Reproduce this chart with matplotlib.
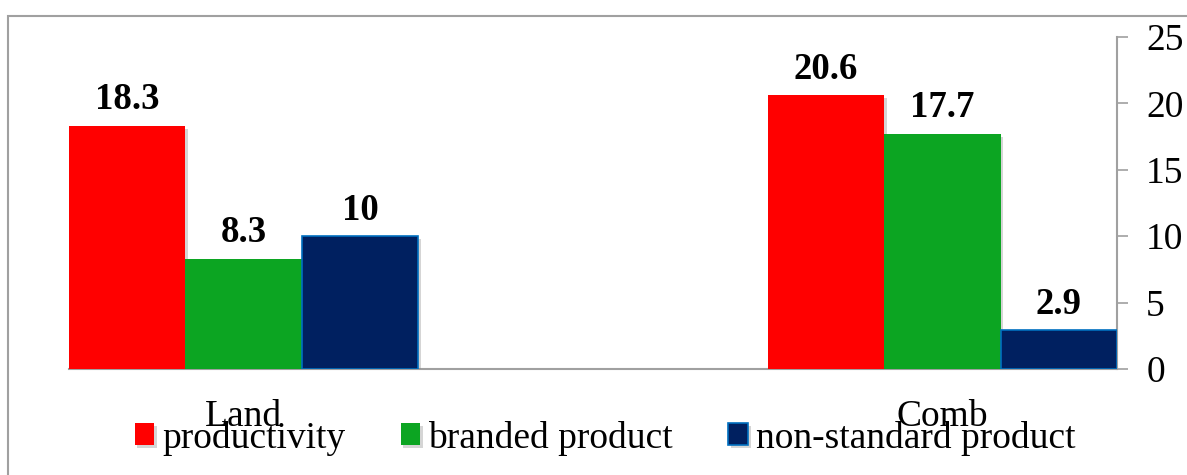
import matplotlib
matplotlib.use("Agg")
import matplotlib.pyplot as plt
import matplotlib.patheffects as pe
from matplotlib.patches import Rectangle
import numpy as np

plt.rcParams['font.family'] = ['Liberation Serif', 'DejaVu Serif']

categories = ['Land', 'Comb']
series = ['productivity', 'branded product', 'non-standard product']
productivity = [18.3, 20.6]
branded = [8.3, 17.7]
non_standard = [10, 2.9]
colors = ['#ff0000', '#0ca522', '#002060']
edges = ['#ff0000', '#0ca522', '#0070c0']

W, H = 1187, 475
fig = plt.figure(figsize=(W / 100, H / 100), dpi=100)

# outer frame (runs off the right and bottom of the picture)
fig.patches.append(Rectangle((8 / W, -0.1), 1.2, 1 - 16 / H + 0.1, transform=fig.transFigure,
                             fill=False, edgecolor='#a0a0a0', linewidth=1.5))

ax = fig.add_axes([69 / W, 1 - 369 / H, (1117 - 69) / W, (369 - 37) / H])

x = np.arange(len(categories))
w = 1 / 6
shadow = [pe.SimplePatchShadow(offset=(2, -2), shadow_rgbFace='#888888', alpha=0.35), pe.Normal()]
handles = []
for i, vals in enumerate([productivity, branded, non_standard]):
    bars = ax.bar(x + (i - 1) * w, vals, width=w, color=colors[i], edgecolor=edges[i],
                  linewidth=1.2 if i == 2 else 0, label=series[i], zorder=3)
    for b in bars:
        b.set_path_effects(shadow)
    handles.append(bars)
    for xi, v in zip(x + (i - 1) * w, vals):
        ax.annotate(f'{v:g}', (xi, v), xytext=(0, 12), textcoords='offset points',
                    ha='center', va='baseline', fontsize=26.5, fontweight='bold')

ax.set_xlim(-0.25, 1.25)
ax.set_ylim(0, 25)
ax.yaxis.tick_right()
ax.set_yticks(range(0, 26, 5))
ax.tick_params(axis='y', length=8, width=1.2, color='#a0a0a0', pad=13, labelsize=27)
ax.set_xticks(x)
ax.set_xticklabels(categories)
ax.tick_params(axis='x', length=0, pad=22, labelsize=27)

for s in ['left', 'top']:
    ax.spines[s].set_visible(False)
for s in ['right', 'bottom']:
    ax.spines[s].set_color('#a0a0a0')
    ax.spines[s].set_linewidth(1.5)

fig.legend(handles=handles, labels=series, loc='center', bbox_to_anchor=(605 / W, 1 - 438 / H),
           ncol=3, frameon=False, fontsize=27, handlelength=0.53, handleheight=0.53,
           handletextpad=0.21, columnspacing=1.47, borderpad=0)

fig.savefig('out.png', dpi=100)
